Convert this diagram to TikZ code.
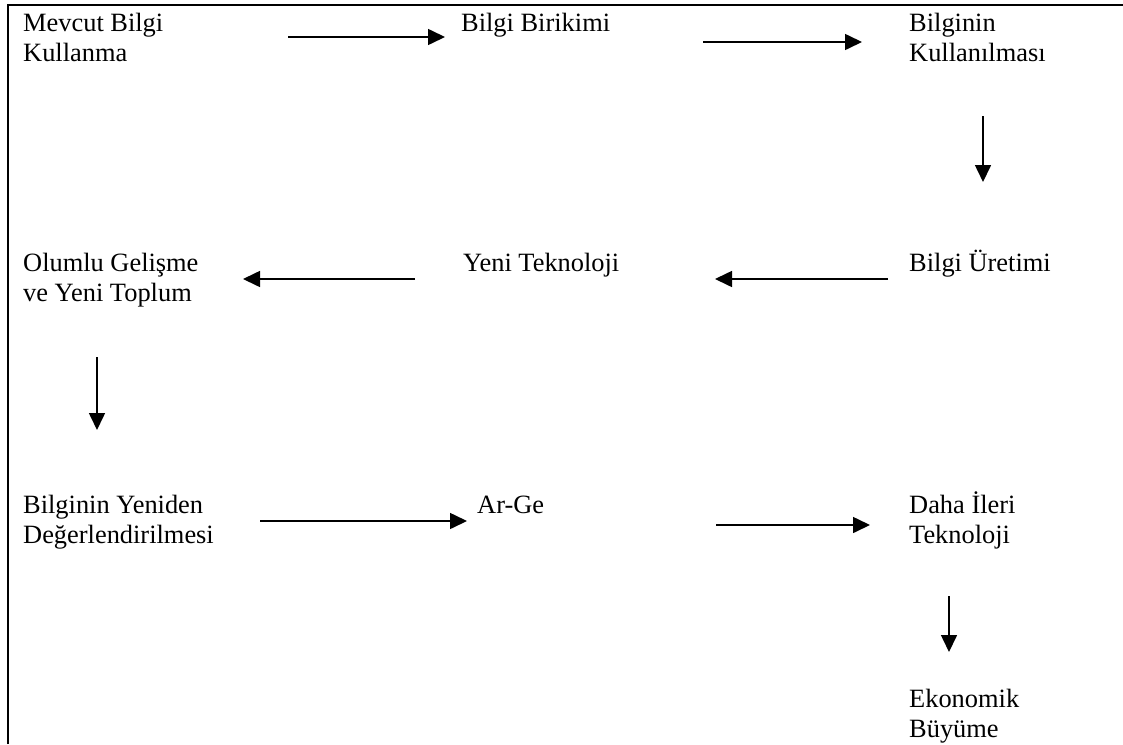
\documentclass[tikz,border=0pt]{standalone}
\usepackage{fontspec}
\setmainfont{Liberation Serif}
\usetikzlibrary{arrows.meta}
\begin{document}
\begin{tikzpicture}[x=1pt,y=-1pt,
  lbl/.style={font=\fontsize{26.4}{30}\selectfont, inner sep=0pt, anchor=base west},
  flow/.style={line width=1.6pt, -{Triangle[length=17pt,width=16pt]}},
  frame/.style={line width=2.4pt}]
\useasboundingbox (0,0) rectangle (1123,744);
\draw[frame] (8,744) -- (8,5) -- (1123,5);
% labels
\node[lbl] (a) at (23,31) {\begin{tabular}[t]{@{}l@{}}Mevcut Bilgi\\Kullanma\end{tabular}};
\node[lbl] (b) at (461,31) {Bilgi Birikimi};
\node[lbl] (c) at (909,31) {\begin{tabular}[t]{@{}l@{}}Bilginin\\Kullanılması\end{tabular}};
\node[lbl] (d) at (23,271) {\begin{tabular}[t]{@{}l@{}}Olumlu Gelişme\\ve Yeni Toplum\end{tabular}};
\node[lbl] (e) at (463,271) {Yeni Teknoloji};
\node[lbl] (f) at (909,271) {Bilgi Üretimi};
\node[lbl] (g) at (23,513) {\begin{tabular}[t]{@{}l@{}}Bilginin Yeniden\\Değerlendirilmesi\end{tabular}};
\node[lbl] (h) at (477,513) {Ar-Ge};
\node[lbl] (i) at (909,513) {\begin{tabular}[t]{@{}l@{}}Daha İleri\\Teknoloji\end{tabular}};
\node[lbl] (j) at (909,707) {\begin{tabular}[t]{@{}l@{}}Ekonomik\\Büyüme\end{tabular}};
% arrow end points
\coordinate (ab1) at (288,37);  \coordinate (ab2) at (445,37);
\coordinate (bc1) at (703,42);  \coordinate (bc2) at (862,42);
\coordinate (cf1) at (983,116); \coordinate (cf2) at (983,182);
\coordinate (fe1) at (888,279); \coordinate (fe2) at (715,279);
\coordinate (ed1) at (415,279); \coordinate (ed2) at (243,279);
\coordinate (dg1) at (97,357);  \coordinate (dg2) at (97,430);
\coordinate (gh1) at (260,521); \coordinate (gh2) at (467,521);
\coordinate (hi1) at (716,525); \coordinate (hi2) at (870,525);
\coordinate (ij1) at (949,596); \coordinate (ij2) at (949,652);
\draw[flow] (ab1) -- (ab2);
\draw[flow] (bc1) -- (bc2);
\draw[flow] (cf1) -- (cf2);
\draw[flow] (fe1) -- (fe2);
\draw[flow] (ed1) -- (ed2);
\draw[flow] (dg1) -- (dg2);
\draw[flow] (gh1) -- (gh2);
\draw[flow] (hi1) -- (hi2);
\draw[flow] (ij1) -- (ij2);
\end{tikzpicture}
\end{document}
